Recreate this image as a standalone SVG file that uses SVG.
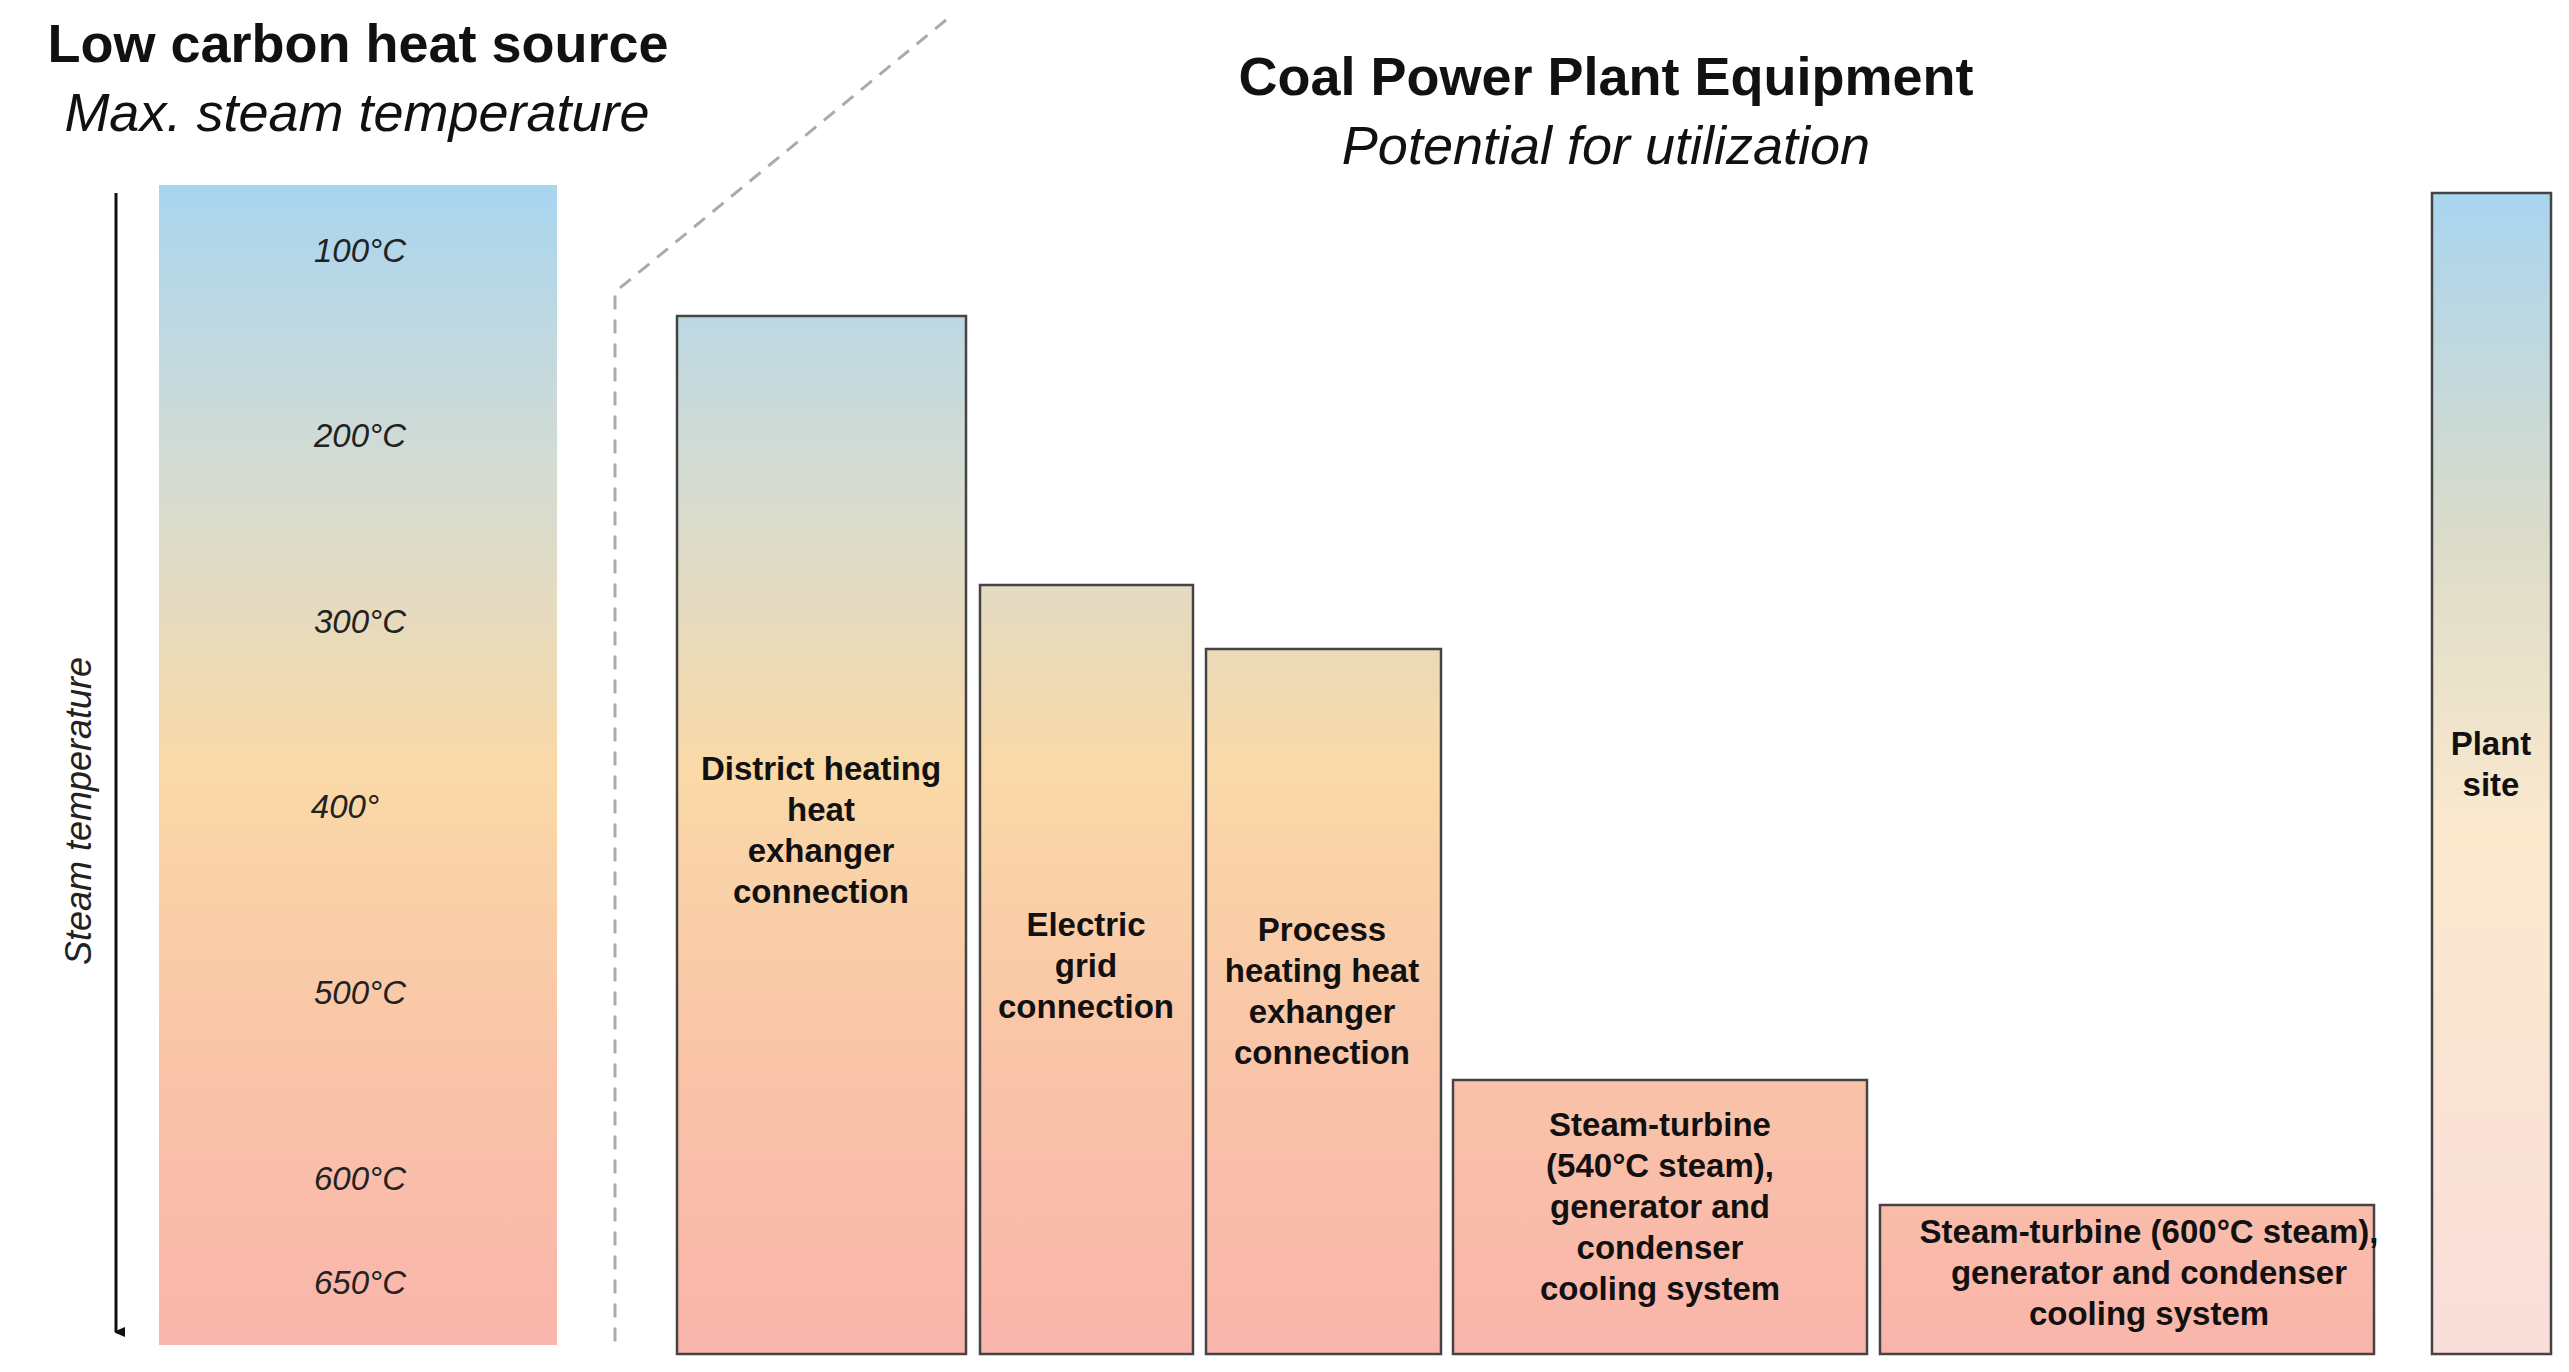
<svg xmlns="http://www.w3.org/2000/svg" width="2569" height="1372" viewBox="0 0 2569 1372">
<defs>
<linearGradient id="g" gradientUnits="userSpaceOnUse" x1="0" y1="185" x2="0" y2="1354">
<stop offset="0" stop-color="#a9d5f0"/><stop offset="0.25" stop-color="#d5dcd2"/><stop offset="0.5" stop-color="#fad9a7"/><stop offset="0.75" stop-color="#f9c4a8"/><stop offset="1" stop-color="#f9b5ab"/>
</linearGradient>
<linearGradient id="gp" x1="0" y1="0" x2="0" y2="1">
<stop offset="0" stop-color="#a9d5f0"/><stop offset="0.3" stop-color="#dcdcc9"/><stop offset="0.55" stop-color="#fbe9cd"/><stop offset="1" stop-color="#f9dedb"/>
</linearGradient>
<marker id="ah" markerWidth="10" markerHeight="10" refX="5" refY="9" orient="auto" markerUnits="userSpaceOnUse"><path d="M0,0 L10,0 L5,12 Z" fill="#111"/></marker>
</defs>
<style>
.h{font-family:"Liberation Sans",Arial,sans-serif;font-size:54px;fill:#111;text-anchor:middle}
.b{font-weight:bold}.i{font-style:italic}
.t{font-family:"Liberation Sans",Arial,sans-serif;font-size:33px;font-style:italic;fill:#222;text-anchor:middle}
.bx{stroke:#444;stroke-width:2.5;fill:url(#g)}
.l{font-family:"Liberation Sans",Arial,sans-serif;font-size:33px;font-weight:bold;fill:#111;text-anchor:middle}
</style>
<rect width="2569" height="1372" fill="#fff"/>
<text class="h b" x="358" y="62">Low carbon heat source</text>
<text class="h i" x="357" y="131">Max. steam temperature</text>
<text class="h b" x="1606" y="95">Coal Power Plant Equipment</text>
<text class="h i" x="1606" y="164">Potential for utilization</text>
<g id="scale">
<rect x="159" y="185" width="398" height="1160" fill="url(#g)"/>
<text class="t" x="360" y="262">100°C</text>
<text class="t" x="360" y="447">200°C</text>
<text class="t" x="360" y="633">300°C</text>
<text class="t" x="345" y="818">400°</text>
<text class="t" x="360" y="1004">500°C</text>
<text class="t" x="360" y="1190">600°C</text>
<text class="t" x="360" y="1294">650°C</text>
</g>
<g id="connectors">
<line x1="116" y1="193" x2="116" y2="1332" stroke="#111" stroke-width="3" marker-end="url(#ah)"/>
<polyline points="946,20 615,292 615,1345" fill="none" stroke="#aaa" stroke-width="3" stroke-dasharray="14,10"/>
</g>
<text class="t" transform="translate(91,811) rotate(-90)" style="font-size:36px">Steam temperature</text>
<g id="district"><rect class="bx" x="677" y="316" width="289" height="1038"/>
<text class="l" x="821" y="780">District heating</text><text class="l" x="821" y="821">heat</text><text class="l" x="821" y="862">exhanger</text><text class="l" x="821" y="903">connection</text></g>
<g id="electric"><rect class="bx" x="980" y="585" width="213" height="769"/>
<text class="l" x="1086" y="936">Electric</text><text class="l" x="1086" y="977">grid</text><text class="l" x="1086" y="1018">connection</text></g>
<g id="process"><rect class="bx" x="1206" y="649" width="235" height="705"/>
<text class="l" x="1322" y="941">Process</text><text class="l" x="1322" y="982">heating heat</text><text class="l" x="1322" y="1023">exhanger</text><text class="l" x="1322" y="1064">connection</text></g>
<g id="st540"><rect class="bx" x="1453" y="1080" width="414" height="274"/>
<text class="l" x="1660" y="1136">Steam-turbine</text><text class="l" x="1660" y="1177">(540°C steam),</text><text class="l" x="1660" y="1218">generator and</text><text class="l" x="1660" y="1259">condenser</text><text class="l" x="1660" y="1300">cooling system</text></g>
<g id="st600"><rect class="bx" x="1880" y="1205" width="494" height="149"/>
<text class="l" x="2149" y="1243">Steam-turbine (600°C steam),</text><text class="l" x="2149" y="1284">generator and condenser</text><text class="l" x="2149" y="1325">cooling system</text></g>
<g id="plant"><rect x="2432" y="193" width="119" height="1161" fill="url(#gp)" stroke="#444" stroke-width="2.5"/>
<text class="l" x="2491" y="755">Plant</text><text class="l" x="2491" y="796">site</text></g>
</svg>
